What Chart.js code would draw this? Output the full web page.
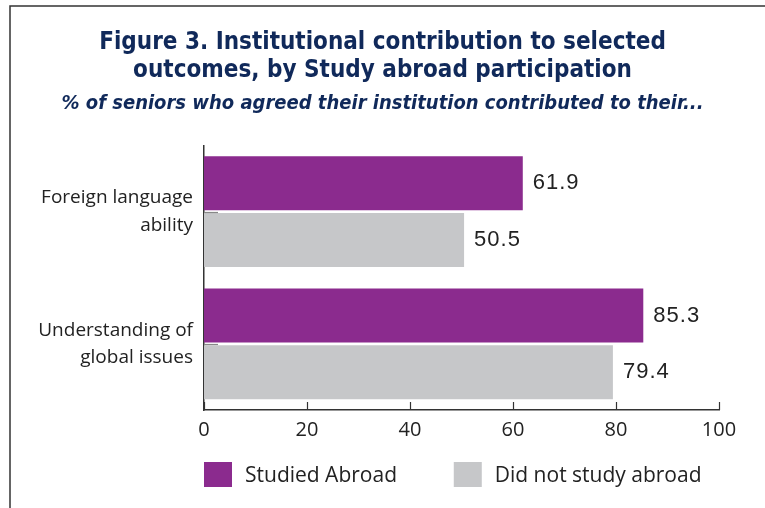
<!DOCTYPE html>
<html>
<head>
<meta charset="utf-8">
<title>Figure 3</title>
<script src="https://cdn.jsdelivr.net/npm/chart.js@4.4.1/dist/chart.umd.min.js"></script>
<style>
  body { margin: 0; background: #fff; }
  #wrap { position: relative; width: 765px; height: 508px; }
</style>
</head>
<body>
<div id="wrap"><canvas id="outcomeChart"></canvas></div>
<script>
  const outcomes = [['Foreign language', 'ability'], ['Understanding of', 'global issues']];
  const studiedAbroad = [61.9, 85.3];
  const didNotStudy = [50.5, 79.4];
  const seriesNames = ['Studied Abroad', 'Did not study abroad'];
  const xTicks = [0, 20, 40, 60, 80, 100];

  const purple = '#8b2b8e';
  const grey = '#c6c7c9';
  const navy = '#10295a';
  const ink = '#222222';
  const bodyFont = "'Open Sans', 'Noto Sans', sans-serif";
  const titleFont = "'Liberation Sans Narrow', 'DejaVu Sans Condensed', sans-serif";

  // thin frame along the top and left edge
  const framePlugin = {
    id: 'frame',
    beforeDraw(chart) {
      const c = chart.ctx;
      c.save();
      c.strokeStyle = '#333';
      c.lineWidth = 1.5;
      c.beginPath();
      c.moveTo(10, chart.height);
      c.lineTo(10, 6);
      c.lineTo(chart.width, 6);
      c.stroke();
      c.restore();
    }
  };

  // let the long category labels run into the left padding without being clipped
  const wideLabels = {
    id: 'wideLabels',
    afterLayout(chart) {
      chart.scales.y.left = 0;
    }
  };

  // x tick marks point up into the plot, small marks at category centres
  const axisMarks = {
    id: 'axisMarks',
    afterDraw(chart) {
      const c = chart.ctx;
      const x = chart.scales.x, y = chart.scales.y;
      c.save();
      c.strokeStyle = '#333';
      c.lineWidth = 1.2;
      xTicks.forEach(v => {
        const px = Math.round(x.getPixelForValue(v)) + 0.5;
        c.beginPath();
        c.moveTo(px, y.bottom);
        c.lineTo(px, y.bottom - 8);
        c.stroke();
      });
      c.strokeStyle = '#888';
      outcomes.forEach((o, i) => {
        const py = Math.round(y.getPixelForValue(i)) + 0.5;
        c.beginPath();
        c.moveTo(x.left, py);
        c.lineTo(x.left + 14, py);
        c.stroke();
      });
      c.restore();
    }
  };

  // value printed just past the end of each bar
  const barValues = {
    id: 'barValues',
    afterDatasetsDraw(chart) {
      const c = chart.ctx;
      c.save();
      c.font = "22px 'Liberation Sans', Arial, sans-serif";
      c.letterSpacing = '1px';
      c.fillStyle = ink;
      c.textBaseline = 'middle';
      chart.data.datasets.forEach((ds, di) => {
        chart.getDatasetMeta(di).data.forEach((bar, i) => {
          c.fillText(ds.data[i].toFixed(1), bar.x + 10, bar.y);
        });
      });
      c.restore();
    }
  };

  // two-column legend under the plot, lined up with the plot's left edge
  const sideLegend = {
    id: 'sideLegend',
    afterDraw(chart) {
      const c = chart.ctx;
      const area = chart.chartArea;
      c.save();
      c.font = '21px ' + bodyFont;
      c.textBaseline = 'middle';
      chart.data.datasets.forEach((ds, i) => {
        const bx = area.left + i * area.width * 0.485;
        const by = area.bottom + 52;
        c.fillStyle = ds.backgroundColor;
        c.fillRect(bx, by, 28, 25);
        c.fillStyle = ink;
        c.fillText(ds.label, bx + 41, by + 14);
      });
      c.restore();
    }
  };

  const ctx = document.getElementById('outcomeChart').getContext('2d');
  const chart = new Chart(ctx, {
    type: 'bar',
    data: {
      labels: outcomes,
      datasets: [
        { label: seriesNames[0], data: studiedAbroad, backgroundColor: purple, borderWidth: 0 },
        { label: seriesNames[1], data: didNotStudy, backgroundColor: grey, borderWidth: 0 }
      ]
    },
    options: {
      indexAxis: 'y',
      responsive: true,
      maintainAspectRatio: false,
      animation: false,
      datasets: { bar: { barPercentage: 0.95, categoryPercentage: 0.86 } },
      layout: { padding: { top: 28, right: 46, bottom: 66, left: 46 } },
      scales: {
        x: {
          min: 0,
          max: 100,
          ticks: { stepSize: 20, color: ink, font: { family: bodyFont, size: 20 }, padding: 0 },
          grid: { display: false },
          border: { color: '#333', width: 1.5 }
        },
        y: {
          afterFit(scale) { scale.width = 158; },
          ticks: { autoSkip: false, color: ink, font: { family: bodyFont, size: 19, lineHeight: 1.45 }, padding: 3 },
          grid: { display: false },
          border: { color: '#333', width: 1.5 }
        }
      },
      plugins: {
        title: {
          display: true,
          text: ['Figure 3. Institutional contribution to selected', 'outcomes, by Study abroad participation'],
          color: navy,
          font: { family: titleFont, size: 24, weight: 'bold', lineHeight: 1.2 },
          padding: { top: 0, bottom: 6 }
        },
        subtitle: {
          display: true,
          text: '% of seniors who agreed their institution contributed to their...',
          color: navy,
          font: { family: titleFont, size: 20, weight: 'bold', style: 'italic', lineHeight: 1.2 },
          padding: { top: 0, bottom: 30 }
        },
        legend: { display: false },
        tooltip: { enabled: false }
      }
    },
    plugins: [framePlugin, wideLabels, axisMarks, barValues, sideLegend]
  });
</script>
</body>
</html>
